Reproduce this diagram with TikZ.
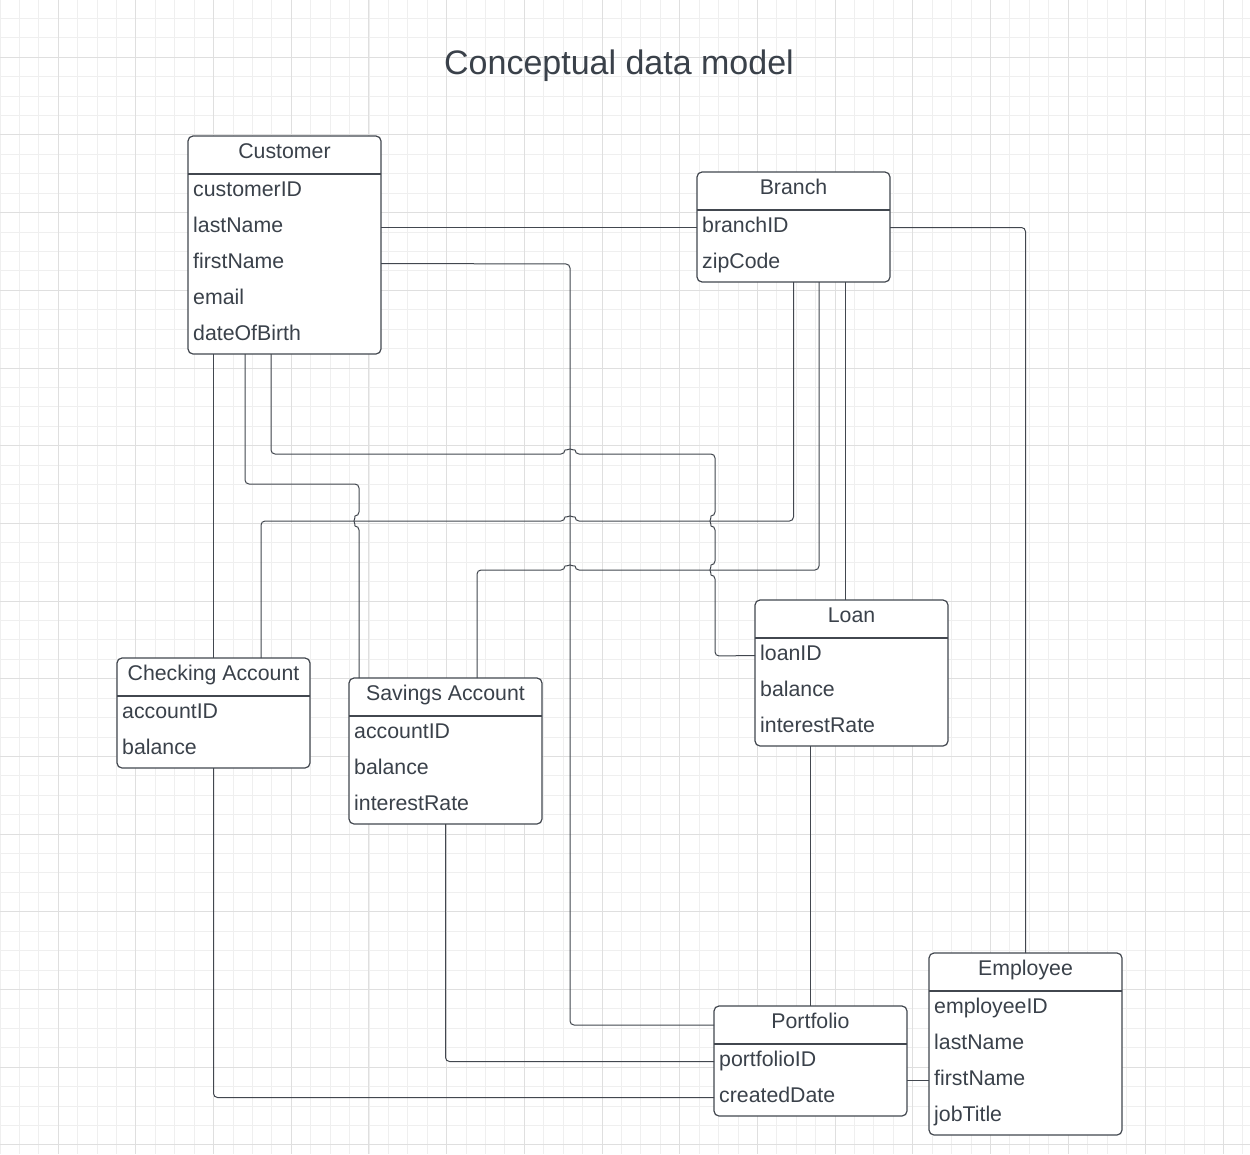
\documentclass[tikz,border=0pt]{standalone}
\usepackage{fontspec}
\setmainfont{Liberation Sans}
\definecolor{ink}{HTML}{3A414A}
\definecolor{lineC}{HTML}{42474F}
\definecolor{gridMinor}{HTML}{EFEFEF}
\definecolor{gridMajor}{HTML}{DFDFDF}
\tikzset{
  ebox/.style={draw=lineC, line width=1.2pt, rounded corners=5pt, fill=white,
    minimum width=193pt, inner sep=0pt, outer sep=0pt},
  ehead/.style={draw=lineC, line width=1.2pt},
  etext/.style={font=\fontsize{21.3}{24}\selectfont, text=ink, inner sep=0pt,
    text height=15.3pt, text depth=4.5pt},
  conn/.style={draw=lineC, line width=1pt, rounded corners=4pt},
  gminor/.style={draw=gridMinor, line width=0.9pt},
  gmajor/.style={draw=gridMajor, line width=1pt}
}
\newcommand{\ERbox}[6]{%
  \node[ebox, minimum height={(38+36*#4)*1pt}, anchor=north west] (#1) at (#2,#3) {};
  \draw[ehead] ([yshift=-38pt]#1.north west) -- ([yshift=-38pt]#1.north east);
  \node[etext] (#1-h) at ([yshift=-17.5pt]#1.north) {#5};
  \foreach \f [count=\i] in {#6} {
    \node[etext, anchor=west] (#1-\i) at ([xshift=5pt, yshift={-(19.5+36*\i)*1pt}]#1.north west) {\f};
  }%
}
\begin{document}
\begin{tikzpicture}[x=1pt, y=-1pt]
\useasboundingbox (0,0) rectangle (1250,1154);
\fill[white] (0,0) rectangle (1250,1154);
% grid
\foreach \i in {0,...,64} {
  \draw[gminor] (\i*19.42,0) -- (\i*19.42,1154);
}
\foreach \i in {0,...,59} {
  \draw[gminor] (0,\i*19.42-1) -- (1250,\i*19.42-1);
}
\foreach \i in {0,...,15} {
  \draw[gmajor] (58.26+\i*77.68,0) -- (58.26+\i*77.68,1154);
}
\foreach \i in {0,...,14} {
  \draw[gmajor] (0,57.3+\i*77.68) -- (1250,57.3+\i*77.68);
}
% title
\node[font=\fontsize{34}{40}\selectfont, text=ink, inner sep=0pt] (title) at (619,66) {Conceptual data model};
% entities
\ERbox{cust}{188}{136}{5}{Customer}{customerID,lastName,firstName,email,dateOfBirth}
\ERbox{branch}{697}{172}{2}{Branch}{branchID,zipCode}
\ERbox{check}{117}{658}{2}{Checking Account}{accountID,balance}
\ERbox{sav}{349}{678}{3}{Savings Account}{accountID,balance,interestRate}
\ERbox{loan}{755}{600}{3}{Loan}{loanID,balance,interestRate}
\ERbox{port}{714}{1006}{2}{Portfolio}{portfolioID,createdDate}
\ERbox{emp}{929}{953}{4}{Employee}{employeeID,lastName,firstName,jobTitle}
% connectors
\draw[conn] (cust.east |- cust-2) -- (branch.west |- branch-1);
\draw[conn] (cust.east |- cust-3) -- (570,264) -- (570,1025) -- ([yshift=-19pt]port.north west);
\draw[conn] (branch.east |- branch-1) -| (emp.north);
\draw[conn] (cust.south -| check.north) -- (check.north);
\draw[conn] ([xshift=57pt]cust.south west) -- (245,484) -- (359,484) -- (359,516)
  arc[start angle=90, end angle=270, radius=5pt] -- ([xshift=-86.5pt]sav.north);
\draw[conn] ([xshift=83pt]cust.south west) -- (271,454) -- (565,454)
  arc[start angle=180, end angle=0, radius=5pt] -- (715,454) -- (715,516)
  arc[start angle=90, end angle=270, radius=5pt] -- (715,565)
  arc[start angle=90, end angle=270, radius=5pt] -- (715,656) -- (loan.west |- loan-1);
\draw[conn] (branch.south) -- (793.5,521) -- (575,521)
  arc[start angle=0, end angle=180, radius=5pt] -- (261,521) -- ([xshift=47.5pt]check.north);
\draw[conn] ([xshift=25.5pt]branch.south) -- (819,570) -- (575,570)
  arc[start angle=0, end angle=180, radius=5pt] -- (477,570) -- ([xshift=31.5pt]sav.north);
\draw[conn] ([xshift=51.5pt]branch.south) -- ([xshift=-6.5pt]loan.north);
\draw[conn] (port.north |- loan.south) -- (port.north);
\draw[conn] (sav.south) |- (port.west |- port-1);
\draw[conn] (check.south) |- (port.west |- port-2);
\draw[conn] (port.east |- emp-3) -- (emp.west |- emp-3);
\end{tikzpicture}
\end{document}
